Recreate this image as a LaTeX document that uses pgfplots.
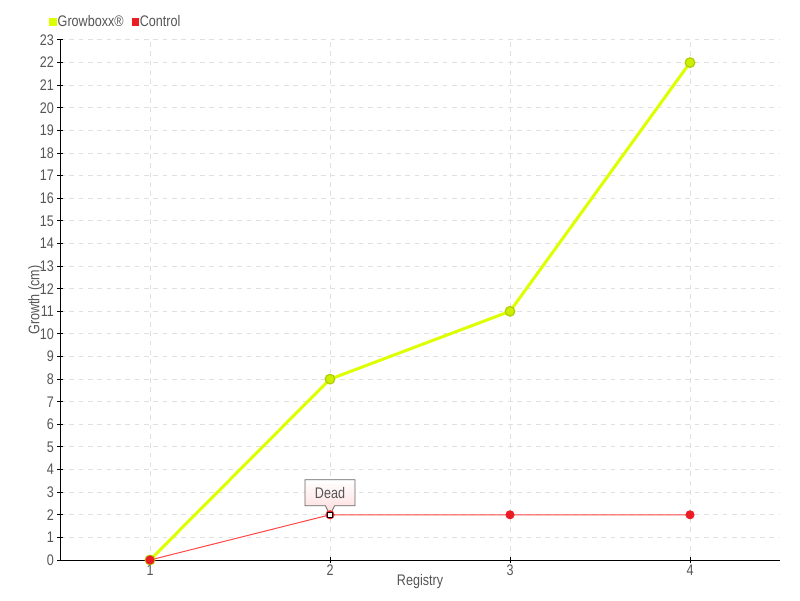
\documentclass[border=0pt]{standalone}
\usepackage{pgfplots}
\pgfplotsset{compat=1.18}
\usepackage{fontspec}
\setmainfont{Liberation Sans}[FakeStretch=0.82]
\usetikzlibrary{shapes.callouts}
\definecolor{growline}{RGB}{221,255,0}
\definecolor{growedge}{RGB}{175,205,0}
\definecolor{growfill}{RGB}{205,240,0}
\definecolor{ctrlmark}{RGB}{236,28,36}
\definecolor{ctrlline}{RGB}{255,70,70}
\definecolor{txt}{RGB}{85,85,85}
\definecolor{gridc}{RGB}{224,224,224}
\definecolor{tipfill}{RGB}{255,218,218}

\begin{document}
\begin{tikzpicture}
\begin{axis}[
  name=ax,
  scale only axis,
  width=540pt, height=390pt,
  xmin=0.5, xmax=4.5,
  ymin=0, ymax=23,
  axis lines=left,
  axis line style={-, black, line width=0.75pt},
  xtick={1,2,3,4},
  ytick={0,1,...,23},
  tick align=center,
  major tick length=4pt,
  tick style={black, line width=0.75pt},
  grid=major,
  major grid style={gridc, dash pattern=on 3.5pt off 3.5pt, line width=0.75pt},
  /pgf/number format/assume math mode=true,
  ticklabel style={font=\fontsize{11.5}{13}\selectfont, text=txt},
  xticklabel style={anchor=center, yshift=-5.5pt},
  yticklabel style={xshift=1pt},
  xlabel={Registry},
  ylabel={Growth (cm)},
  label style={font=\fontsize{11.5}{13}\selectfont, text=txt},
  xlabel style={at={(axis description cs:0.5,-0.041)}, anchor=center},
  ylabel style={at={(axis description cs:-0.034,0.5)}, anchor=center},
  legend style={at={(axis description cs:-0.015,1.035)}, anchor=west,
    draw=none, fill=none, inner xsep=0pt, inner ysep=0pt,
    font=\fontsize{11.5}{13}\selectfont, text=txt,
    nodes={inner sep=1pt},
    /tikz/every even column/.append style={column sep=5pt}},
  legend columns=-1,
  legend cell align=left,
]
\addlegendimage{legend image code/.code={\fill[growline] (0pt,-2.4pt) rectangle (4.8pt,2.4pt);}}
\addlegendentry{Growboxx®}
\addlegendimage{legend image code/.code={\fill[ctrlmark] (0pt,-2.4pt) rectangle (4.8pt,2.4pt);}}
\addlegendentry{Control}

% Growboxx series
\addplot[forget plot, color=growline, line width=2.25pt, mark=*, mark size=3.6pt,
  mark options={fill=growfill, draw=growedge, line width=0.9pt}]
  coordinates {(1,0) (2,8) (3,11) (4,22)};

% Control series
\addplot[forget plot, color=ctrlline, line width=0.75pt, mark=*, mark size=3pt,
  mark options={fill=ctrlmark, draw=ctrlmark}]
  coordinates {(1,0) (2,2) (3,2) (4,2)};

% highlighted point
\addplot[forget plot, only marks, mark=square*, mark size=1.8pt,
  mark options={fill=white, draw=black, line width=0.8pt}]
  coordinates {(2,2)};

\node[rectangle callout, draw=black!60, line width=0.6pt,
  top color=white, bottom color=tipfill,
  minimum width=37.5pt, minimum height=19.5pt, inner sep=0pt,
  font=\fontsize{11.5}{13}\selectfont, text=txt,
  callout absolute pointer={(axis cs:2,2)}, callout pointer width=7pt,
  anchor=south] at ([yshift=6.5pt]axis cs:2,2) {Dead};
\end{axis}
\path ([shift={(-45pt,-30pt)}]ax.south west);
\path ([shift={(15pt,30pt)}]ax.north east);
\end{tikzpicture}
\end{document}
